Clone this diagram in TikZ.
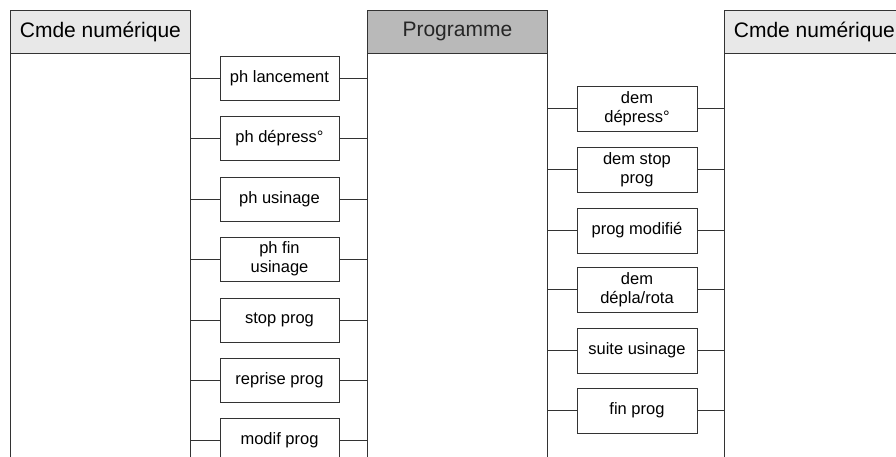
\documentclass[tikz,border=0pt]{standalone}
\usepackage{fontspec}
\setmainfont{Liberation Sans}
\begin{document}
\begin{tikzpicture}[x=1pt,y=-1pt]
\tikzset{
  ln/.style={draw=black!80, line width=0.8pt},
  hdr/.style={ln, minimum width=180pt, minimum height=43pt, inner sep=0pt, anchor=north west, font=\fontsize{21}{25}\selectfont},
  msg/.style={ln, fill=white, minimum width=119pt, minimum height=44pt, inner sep=0pt, align=center, font=\fontsize{16.5}{19}\selectfont},
}
\useasboundingbox (0,0) rectangle (896,456);
\coordinate (bot) at (0,460);
% headers
\node[hdr, fill=gray!18] (hL) at (10,10) {Cmde numérique};
\node[hdr, fill=gray!55, text=black!85] (hP) at (367,10) {Programme};
\node[hdr, fill=gray!18] (hR) at (724,10) {Cmde numérique};
% lifelines
\foreach \h in {hL,hP,hR}{
  \draw[ln] (\h.south west) -- (\h.south west |- bot);
  \draw[ln] (\h.south east) -- (\h.south east |- bot);
}
% left messages
\node[msg] (a1) at (279.5,78) {ph lancement};
\node[msg] (a2) at (279.5,138) {ph dépress°};
\node[msg] (a3) at (279.5,199) {ph usinage};
\node[msg] (a4) at (279.5,259) {ph fin\\usinage};
\node[msg] (a5) at (279.5,320) {stop prog};
\node[msg] (a6) at (279.5,380) {reprise prog};
\node[msg] (a7) at (279.5,440) {modif prog};
\foreach \m in {a1,a2,a3,a4,a5,a6,a7}{
  \draw[ln] (\m.west) -- (\m.west -| hL.east);
  \draw[ln] (\m.east) -- (\m.east -| hP.west);
}
% right messages
\node[msg, minimum width=120pt, minimum height=45pt] (b1) at (637,108.5) {dem\\dépress°};
\node[msg, minimum width=120pt, minimum height=45pt] (b2) at (637,169.5) {dem stop\\prog};
\node[msg, minimum width=120pt, minimum height=45pt] (b3) at (637,230.5) {prog modifié};
\node[msg, minimum width=120pt, minimum height=45pt] (b4) at (637,289.5) {dem\\dépla/rota};
\node[msg, minimum width=120pt, minimum height=45pt] (b5) at (637,350.5) {suite usinage};
\node[msg, minimum width=120pt, minimum height=45pt] (b6) at (637,410.5) {fin prog};
\foreach \m in {b1,b2,b3,b4,b5,b6}{
  \draw[ln] (\m.west) -- (\m.west -| hP.east);
  \draw[ln] (\m.east) -- (\m.east -| hR.west);
}
\end{tikzpicture}
\end{document}
